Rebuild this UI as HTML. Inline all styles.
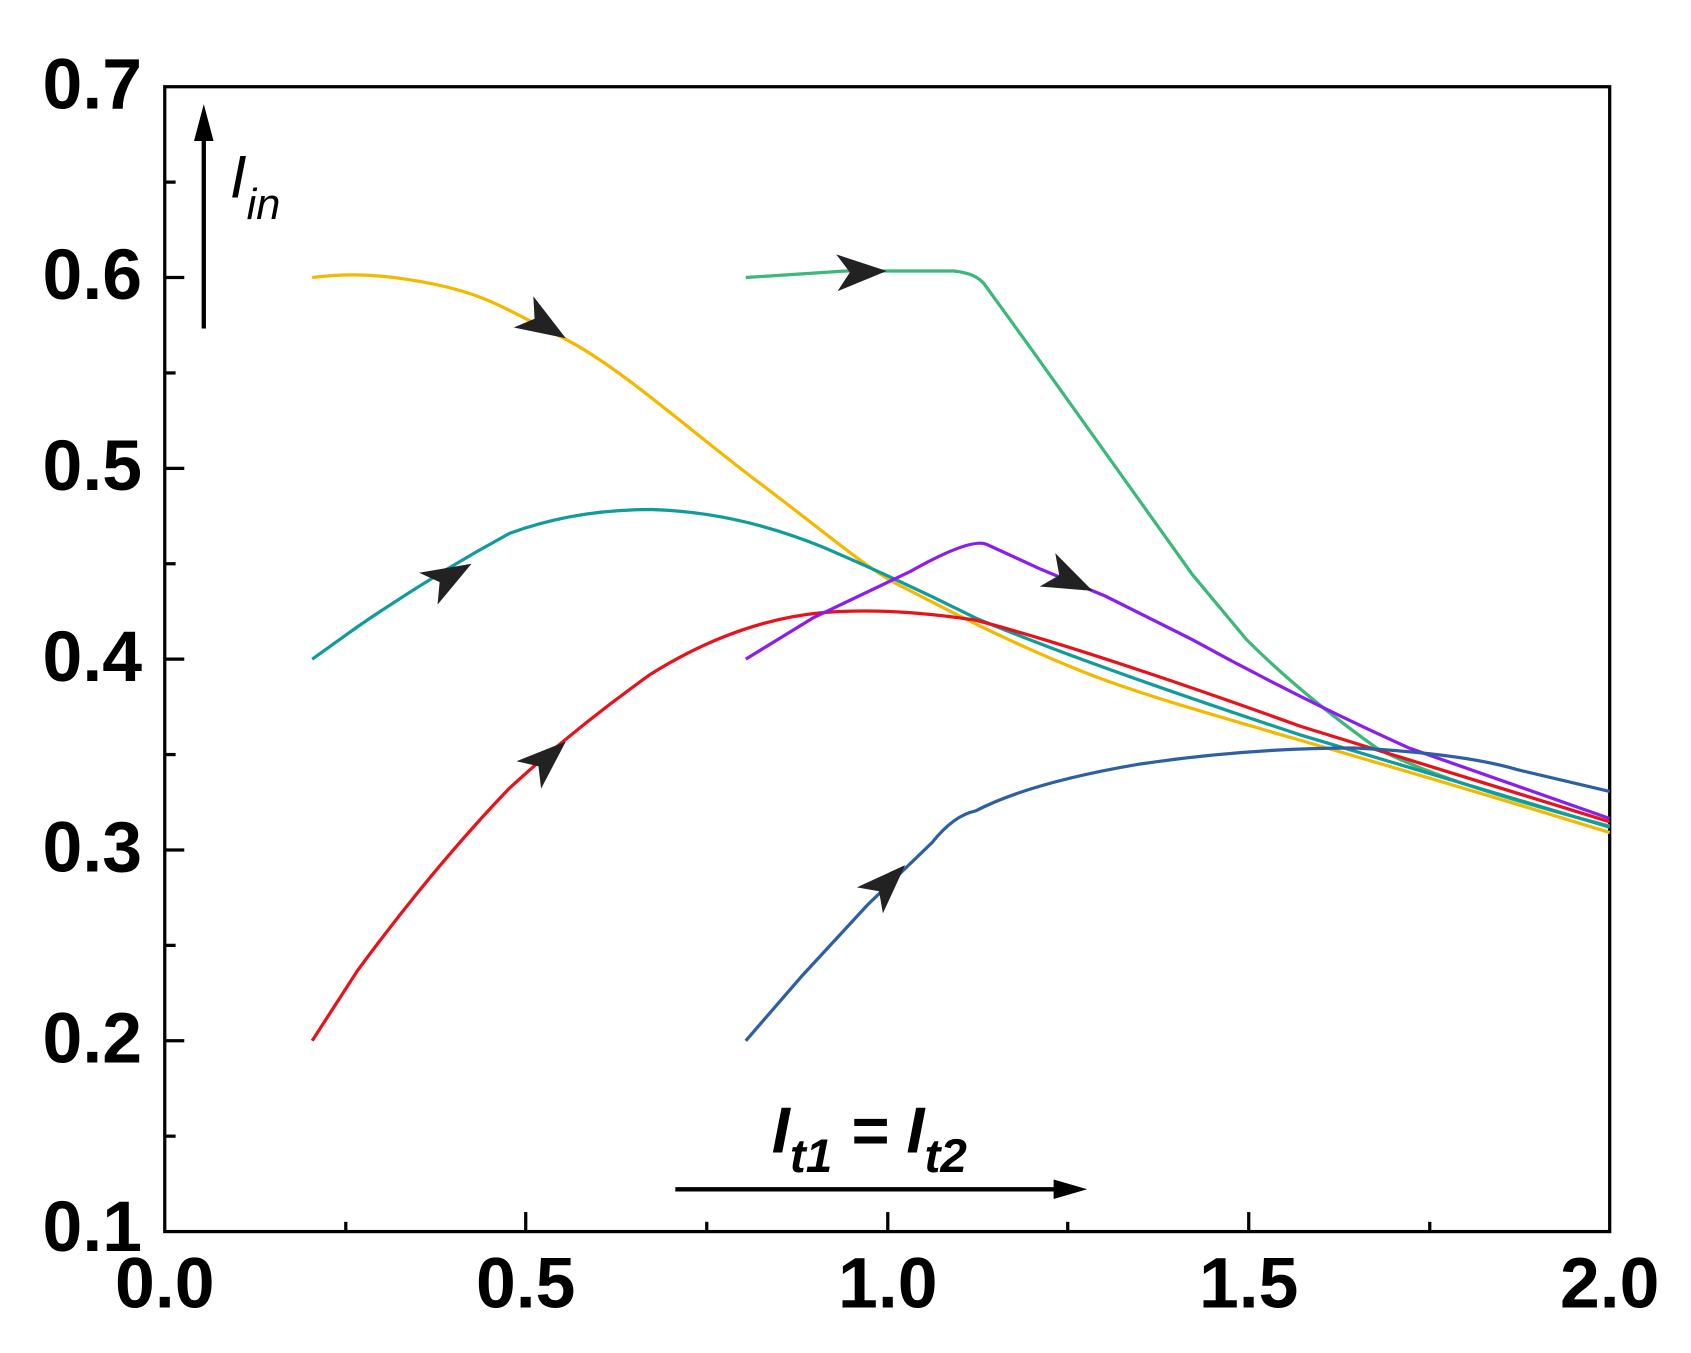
<!DOCTYPE html>
<html><head><style>body{margin:0;background:#fff}svg{display:block}</style></head><body>
<svg width="1691" height="1353" viewBox="0 0 1560 1248" preserveAspectRatio="none" xmlns="http://www.w3.org/2000/svg" font-family="Liberation Sans, sans-serif">
<defs>
<path id="ah" d="M0,0 L-46,-17 L-34,0 L-46,17 Z" fill="#222"/>
</defs>
<rect x="152" y="80" width="1333" height="1056" fill="none" stroke="#000" stroke-width="3"/>
<g stroke="#000" stroke-width="3">
<line x1="152" y1="256" x2="170" y2="256"/><line x1="152" y1="432" x2="170" y2="432"/><line x1="152" y1="608" x2="170" y2="608"/><line x1="152" y1="784" x2="170" y2="784"/><line x1="152" y1="960" x2="170" y2="960"/>
<line x1="152" y1="168" x2="162" y2="168"/><line x1="152" y1="344" x2="162" y2="344"/><line x1="152" y1="520" x2="162" y2="520"/><line x1="152" y1="696" x2="162" y2="696"/><line x1="152" y1="872" x2="162" y2="872"/><line x1="152" y1="1048" x2="162" y2="1048"/>
<line x1="485" y1="1136" x2="485" y2="1118"/><line x1="819" y1="1136" x2="819" y2="1118"/><line x1="1152" y1="1136" x2="1152" y2="1118"/>
<line x1="319" y1="1136" x2="319" y2="1127"/><line x1="652" y1="1136" x2="652" y2="1127"/><line x1="985" y1="1136" x2="985" y2="1127"/><line x1="1319" y1="1136" x2="1319" y2="1127"/>
</g>
<g font-size="66" font-weight="bold" text-anchor="end">
<text x="131" y="100">0.7</text><text x="131" y="276">0.6</text><text x="131" y="452">0.5</text><text x="131" y="628">0.4</text><text x="131" y="804">0.3</text><text x="131" y="980">0.2</text><text x="131" y="1154">0.1</text>
</g>
<g font-size="66" font-weight="bold" text-anchor="middle">
<text x="152" y="1206">0.0</text><text x="485" y="1206">0.5</text><text x="819" y="1206">1.0</text><text x="1152" y="1206">1.5</text><text x="1485" y="1206">2.0</text>
</g>
<g fill="none" stroke-width="3">
<path stroke="#f5b800" d="M288,256 C320,252 350,252 400,262 S470,287 520,312 S640,400 700,445 S800,525 830,540 S920,588 1000,620 S1200,680 1485,768"/>
<path stroke="#3bb87a" d="M688,256 L780,250 L880,250 Q900,252 908,262 L950,320 L1000,390 L1050,460 L1100,530 L1150,590 Q1200,640 1270,690 Q1330,722 1485,762"/>
<path stroke="#119c9c" d="M288,608 L330,578 Q400,530 470,492 Q530,470 600,470 Q680,472 760,505 Q830,535 900,570 Q1000,612 1200,678 L1485,763"/>
<path stroke="#e8121a" d="M288,960 L330,895 Q400,800 470,727 Q530,672 600,622 Q680,572 760,565 Q820,560 900,572 Q1000,598 1200,670 L1485,758"/>
<path stroke="#8a1ef0" d="M688,608 L750,570 L840,527 Q895,496 910,502 L960,525 L1020,550 L1100,590 Q1200,645 1300,690 L1485,755"/>
<path stroke="#2e5fa3" d="M688,960 L740,900 L800,835 L860,777 Q880,752 900,748 Q950,722 1050,705 Q1150,690 1250,690 Q1350,695 1400,710 L1485,730"/>
</g>
<use href="#ah" transform="translate(522,312) rotate(32)"/>
<use href="#ah" transform="translate(818,250) rotate(-2)"/>
<use href="#ah" transform="translate(435,520) rotate(-30)"/>
<use href="#ah" transform="translate(522,684) rotate(-42)"/>
<use href="#ah" transform="translate(1008,545) rotate(25)"/>
<use href="#ah" transform="translate(835,798) rotate(-45)"/>
<line x1="188" y1="303" x2="188" y2="130" stroke="#000" stroke-width="4"/>
<path d="M188,96 L197,130 L179,130 Z" fill="#000"/>
<text x="212" y="182" font-size="56" font-style="italic">I<tspan font-size="40" dy="20">in</tspan></text>
<line x1="623" y1="1097" x2="975" y2="1097" stroke="#000" stroke-width="4"/>
<path d="M1003,1097 L972,1088 L972,1106 Z" fill="#000"/>
<text x="712" y="1063" font-size="60" font-style="italic" font-weight="bold">I<tspan font-size="44" dy="18">t1</tspan><tspan dy="-18"> = I</tspan><tspan font-size="44" dy="18">t2</tspan></text>
</svg>
</body></html>
